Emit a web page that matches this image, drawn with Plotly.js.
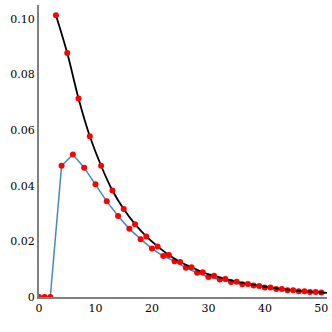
<!DOCTYPE html>
<html>
<head>
<meta charset="utf-8">
<script src="https://cdn.plot.ly/plotly-3.0.1.min.js"></script>
<style>
  html, body { margin: 0; padding: 0; background: #fff; }
  #chart { width: 332px; height: 332px; }
</style>
</head>
<body>
<div id="chart"></div>
<script>
// blue series (even x, plus the zeros at the start)
const blueX = [0, 1, 2, 4, 6, 8, 10, 12, 14, 16, 18, 20, 22, 24, 26, 28, 30, 32, 34, 36, 38, 40, 42, 44, 46, 48, 50];
const blueY = [0, 0, 0, 0.0472, 0.0512, 0.0465, 0.0405, 0.0344, 0.0291, 0.0245, 0.0208, 0.0174, 0.0147, 0.0129,
               0.0105, 0.0087, 0.0072, 0.0063, 0.0054, 0.0046, 0.0041, 0.0034, 0.0029, 0.0024, 0.0021, 0.0018, 0.0016];

// black curve (odd x), last point has no dot
const blackX = [3, 5, 7, 9, 11, 13, 15, 17, 19, 21, 23, 25, 27, 29, 31, 33, 35, 37, 39, 41, 43, 45, 47, 49, 51];
const blackY = [0.1013, 0.0877, 0.0714, 0.0578, 0.0472, 0.0383, 0.0316, 0.0262, 0.0218, 0.0182, 0.0151, 0.0126,
                0.0107, 0.0089, 0.0076, 0.0065, 0.0055, 0.0047, 0.0040, 0.0034, 0.0029, 0.0024, 0.0021, 0.0018, 0.0015];

const xTicks = [0, 10, 20, 30, 40, 50];
const yTicks = [0, 0.02, 0.04, 0.06, 0.08, 0.10];
const yTickText = ['0', '0.02', '0.04', '0.06', '0.08', '0.10'];

const dot = { color: '#ff0000', size: 6 };
const serif = { family: 'DejaVu Serif', size: 11, color: '#000000' };

const blueTrace = {
    x: blueX,
    y: blueY,
    type: 'scatter',
    mode: 'lines+markers',
    line: { color: '#4a86c0', width: 1.5 },
    marker: dot
};

const blackLine = {
    x: blackX,
    y: blackY,
    type: 'scatter',
    mode: 'lines',
    line: { color: '#000000', width: 1.8, shape: 'spline' }
};

const blackDots = {
    x: blackX.slice(0, -1),
    y: blackY.slice(0, -1),
    type: 'scatter',
    mode: 'markers',
    marker: dot
};

const layout = {
    width: 332,
    height: 332,
    showlegend: false,
    paper_bgcolor: '#fff',
    plot_bgcolor: '#fff',
    margin: { t: 5, r: 5, b: 35, l: 39 },
    font: serif,
    xaxis: {
        range: [0, 51],
        tickvals: xTicks,
        ticks: '',
        tickfont: serif,
        showgrid: false,
        zeroline: false,
        showline: true,
        linecolor: '#808080',
        linewidth: 2
    },
    yaxis: {
        range: [0, 0.105],
        tickvals: yTicks,
        ticktext: yTickText,
        ticks: '',
        tickfont: serif,
        showgrid: false,
        zeroline: false,
        showline: true,
        linecolor: '#808080',
        linewidth: 2
    }
};

Plotly.newPlot('chart', [blueTrace, blackLine, blackDots], layout, { displayModeBar: false, staticPlot: true });
</script>
</body>
</html>
